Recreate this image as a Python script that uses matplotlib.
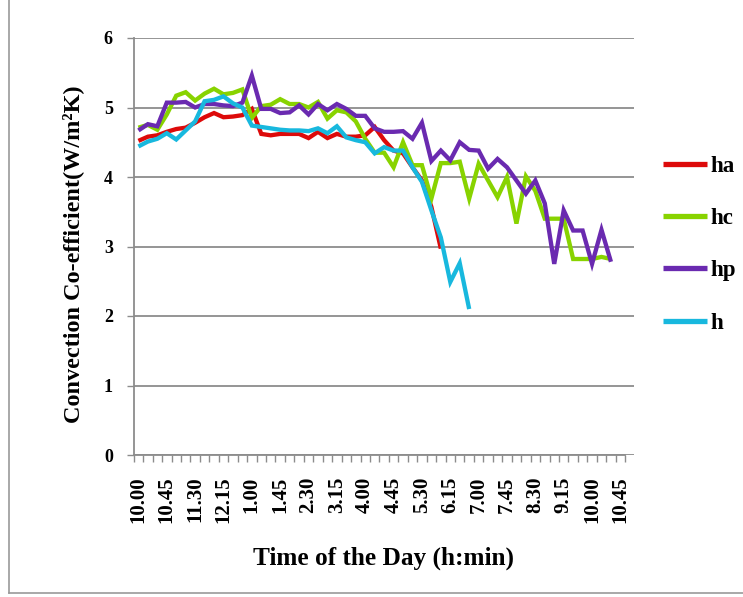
import matplotlib
matplotlib.use("Agg")
import matplotlib.pyplot as plt
from matplotlib.lines import Line2D
import numpy as np

times = ["10.00","10.15","10.30","10.45","11.00","11.15","11.30","11.45","12.00","12.15",
         "12.30","12.45","1.00","1.15","1.30","1.45","2.00","2.15","2.30","2.45",
         "3.00","3.15","3.30","3.45","4.00","4.15","4.30","4.45","5.00","5.15",
         "5.30","5.45","6.00","6.15","6.30","6.45","7.00","7.15","7.30","7.45",
         "8.00","8.15","8.30","8.45","9.00","9.15","9.30","9.45","10.00","10.15",
         "10.30","10.45"]

ha = [4.52, 4.58, 4.60, 4.65, 4.69, 4.71, 4.78, 4.86, 4.92, 4.86, 4.87, 4.89, 4.98,
      4.62, 4.60, 4.62, 4.62, 4.62, 4.56, 4.65, 4.56, 4.62, 4.58, 4.58, 4.60, 4.72,
      4.53, 4.38, 4.34, 4.14, 3.95, 3.57, 2.97]
hc = [4.71, 4.75, 4.68, 4.90, 5.17, 5.22, 5.10, 5.20, 5.27, 5.19, 5.21, 5.26, 4.85,
      5.02, 5.04, 5.12, 5.05, 5.05, 5.00, 5.08, 4.84, 4.96, 4.93, 4.80, 4.55, 4.35,
      4.35, 4.14, 4.50, 4.17, 4.17, 3.69, 4.20, 4.20, 4.22, 3.69, 4.19, 3.95, 3.71,
      4.00, 3.33, 4.01, 3.80, 3.40, 3.40, 3.40, 2.82, 2.82, 2.82, 2.85, 2.82]
hp = [4.67, 4.76, 4.73, 5.07, 5.07, 5.08, 5.00, 5.05, 5.05, 5.03, 5.02, 5.07, 5.46,
      4.98, 4.98, 4.92, 4.93, 5.03, 4.90, 5.05, 4.96, 5.05, 4.98, 4.88, 4.88, 4.70,
      4.65, 4.65, 4.66, 4.55, 4.78, 4.23, 4.38, 4.24, 4.50, 4.39, 4.38, 4.12, 4.26,
      4.14, 3.95, 3.76, 3.95, 3.62, 2.75, 3.52, 3.23, 3.23, 2.75, 3.24, 2.78]
h = [4.44, 4.51, 4.55, 4.63, 4.54, 4.67, 4.80, 5.09, 5.11, 5.16, 5.06, 5.00, 4.74,
     4.72, 4.70, 4.68, 4.67, 4.67, 4.66, 4.70, 4.63, 4.73, 4.57, 4.53, 4.50, 4.34,
     4.43, 4.38, 4.38, 4.14, 3.93, 3.52, 3.13, 2.49, 2.76, 2.10]

series_names = ["ha", "hc", "hp", "h"]
series_values = [ha, hc, hp, h]
colors = ["#DD0A0A", "#88D300", "#6A2AB0", "#18B8DE"]

yticks = [0, 1, 2, 3, 4, 5, 6]
label_every = 3

W, H = 743, 597
fig = plt.figure(figsize=(W / 100, H / 100), dpi=100)
left_px, right_px, top_px, bot_px = 133.7, 634.0, 38.0, 455.0
ax_w, ax_h = right_px - left_px, bot_px - top_px
ax = fig.add_axes([left_px / W, 1 - bot_px / H, ax_w / W, ax_h / H])

serif = ["Liberation Serif", "DejaVu Serif"]
grid_col = "#8C8C8C"

for name, vals, col in zip(series_names, series_values, colors):
    ax.plot(np.arange(len(vals)), vals, color=col, lw=3.1, label=name,
            solid_joinstyle="miter", solid_capstyle="butt")

ncat = len(times)
ax.set_xlim(-0.5, ncat - 0.5 + 0.94)
ax.set_ylim(0, 6)

ax.set_yticks(yticks)
ax.set_yticklabels([str(v) for v in yticks], fontfamily=serif, fontweight="bold", fontsize=13)
ax.yaxis.grid(True, color=grid_col, lw=1.3)
ax.set_axisbelow(True)

major = np.arange(0, ncat, label_every)
ax.set_xticks(major)
ax.set_xticklabels([times[i] for i in major], rotation=90, fontfamily=serif,
                   fontweight="bold", fontsize=15)
ax.set_xticks(np.arange(-0.5, ncat, 1.0), minor=True)
ax.tick_params(axis="x", which="major", length=0, pad=15.5)
ax.tick_params(axis="x", which="minor", length=5, width=1.0, color=grid_col, direction="out")
ax.tick_params(axis="y", which="major", length=5, width=1.0, color=grid_col, direction="out", pad=10)

for s in ["top", "right"]:
    ax.spines[s].set_visible(False)
ax.spines["left"].set_color(grid_col)
ax.spines["left"].set_linewidth(1.3)
ax.spines["bottom"].set_color(grid_col)
ax.spines["bottom"].set_linewidth(1.3)
ax.spines["bottom"].set_bounds(-0.5, ncat - 0.5)

ax.set_ylabel("Convection Co-efficient(W/m²K)", fontfamily=serif, fontweight="bold",
              fontsize=17.5)
ax.yaxis.set_label_coords((84 - left_px) / ax_w, (bot_px - 254) / ax_h)
ax.set_xlabel("Time of the Day (h:min)", fontfamily=serif, fontweight="bold",
              fontsize=18.2)
ax.xaxis.set_label_coords((383 - left_px) / ax_w, -(547 - bot_px) / ax_h)

leg = fig.legend(loc="upper left", bbox_to_anchor=(663 / W, 1 - 156 / H),
                 frameon=False, prop={"family": serif, "weight": "bold", "size": 16.5},
                 handlelength=1.9, handletextpad=0.15, labelspacing=1.36, borderpad=0,
                 borderaxespad=0)
for lh in leg.get_lines():
    lh.set_linewidth(3.8)

fig.add_artist(Line2D([9 / W, 9 / W], [4 / H, 1], transform=fig.transFigure, color="#9A9A9A", lw=1.2))
fig.add_artist(Line2D([9 / W, 1], [4 / H, 4 / H], transform=fig.transFigure, color="#9A9A9A", lw=1.2))

fig.savefig("out.png", dpi=100)
